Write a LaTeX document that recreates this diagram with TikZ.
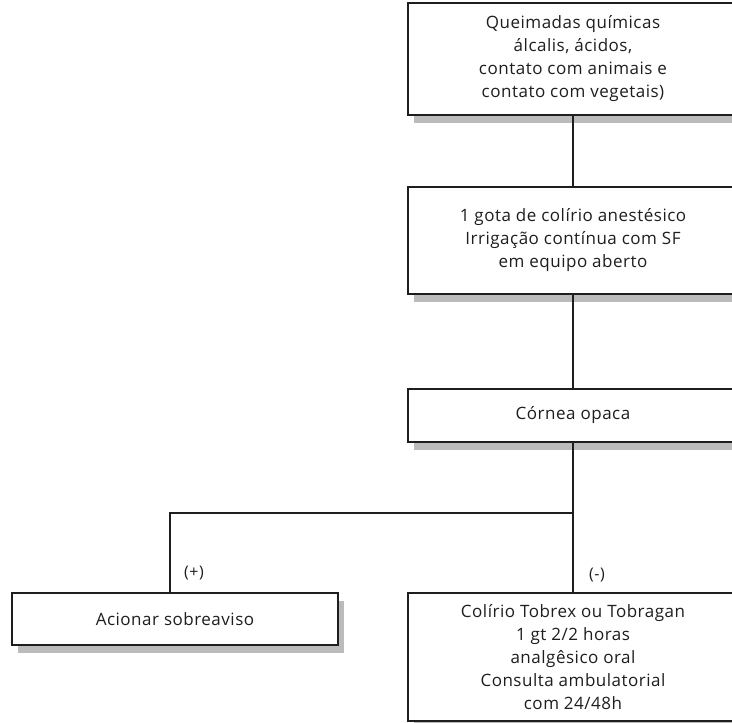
\documentclass[tikz,border=0pt]{standalone}
\usepackage{fontspec}
\setmainfont{Open Sans}[LetterSpace=3]
\usetikzlibrary{shadows}
\definecolor{ink}{HTML}{1E1E1E}
\definecolor{shade}{HTML}{BBBBBB}
\tikzset{
  box/.style={draw=ink, line width=2.2pt, fill=white, align=center, inner sep=0pt,
    font=\fontsize{17}{23}\selectfont, text=ink,
    drop shadow={shadow xshift=6pt, shadow yshift=-8pt, fill=shade, opacity=1}},
  conn/.style={draw=ink, line width=2.2pt},
  lbl/.style={font=\fontsize{16}{18}\selectfont, text=ink}
}
\begin{document}
\begin{tikzpicture}[x=1pt,y=-1pt]
\useasboundingbox (0,0) rectangle (732,723);
\node[box, minimum width=330pt, minimum height=112pt] (top) at (573,59)
  {Queimadas químicas\\ álcalis, ácidos,\\ contato com animais e\\ contato com vegetais)};
\node[box, minimum width=330pt, minimum height=107pt] (irr) at (573,240.5)
  {1 gota de colírio anestésico\\ Irrigação contínua com SF\\ em equipo aberto};
\node[box, minimum width=330pt, minimum height=53pt] (cor) at (573,415.5)
  {Córnea opaca};
\node[box, minimum width=326pt, minimum height=52pt] (aci) at (175,619)
  {Acionar sobreaviso};
\node[box, minimum width=330pt, minimum height=128pt] (tob) at (573,657)
  {Colírio Tobrex ou Tobragan\\ 1 gt 2/2 horas\\ analgêsico oral\\ Consulta ambulatorial\\ com 24/48h};
\coordinate (split) at (573,513);
\coordinate (left) at (170,513);
\draw[conn] (top.south) -- (irr.north);
\draw[conn] (irr.south) -- (cor.north);
\draw[conn] (cor.south) -- (split) -- (tob.north);
\draw[conn] (split) -- (left) -- (left |- aci.north);
\node[lbl] (plus) at (194,573) {(+)};
\node[lbl] (minus) at (597,575) {(-)};
\end{tikzpicture}
\end{document}
